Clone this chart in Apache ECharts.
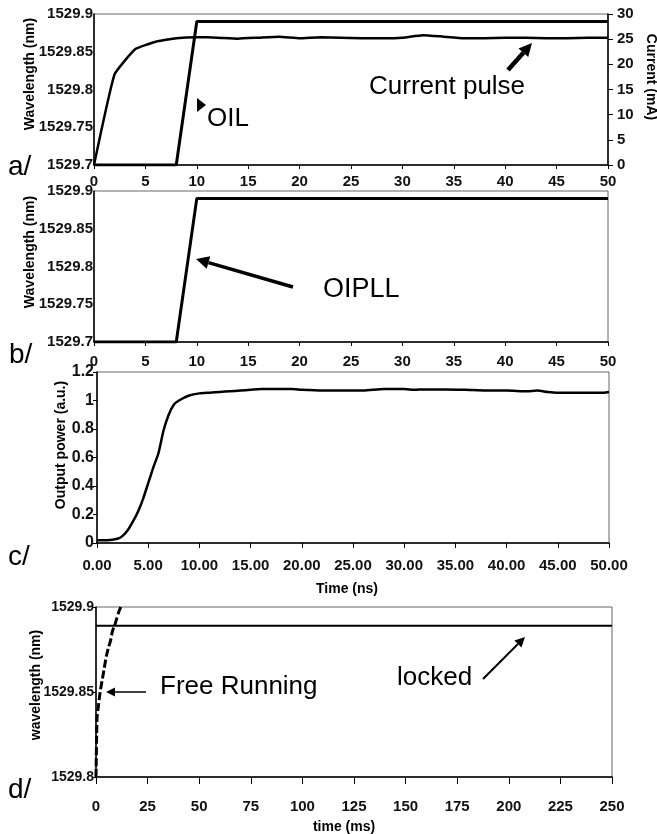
<!DOCTYPE html>
<html>
<head>
<meta charset="utf-8">
<script src="https://cdn.jsdelivr.net/npm/echarts@6/dist/echarts.min.js"></script>
<style>
  html, body { margin: 0; padding: 0; background: #fff; }
  #chart { width: 657px; height: 834px; }
</style>
</head>
<body>
<div id="chart"></div>
<script>
// a/ OIL wavelength step and current pulse
const timeStep = [0, 8, 10, 50];
const wlOIL = [1529.7, 1529.7, 1529.89, 1529.89];
const timeA = [0, 2, 4, 6, 8, 10, 12, 14, 16, 18, 20, 22, 24, 26, 28, 30, 32, 34, 36, 38, 40, 42, 44, 46, 48, 50];
const currentA = [0, 18, 23, 24.5, 25.2, 25.4, 25.3, 25.1, 25.3, 25.5, 25.2, 25.4, 25.3, 25.2, 25.2, 25.3, 25.8, 25.5, 25.2, 25.2, 25.3, 25.3, 25.2, 25.2, 25.3, 25.3];

// b/ OIPLL
const wlOIPLL = [1529.7, 1529.7, 1529.89, 1529.89];

// c/ output power
const timeC = [0, 1, 2, 2.5, 3, 3.5, 4, 4.5, 5, 5.5, 6, 6.5, 7, 7.5, 8, 9, 10, 11, 12, 13, 14, 15, 16, 17, 18, 19, 20, 22, 24, 26, 28, 29, 30, 31, 32, 34, 36, 38, 40, 42, 43, 44, 45, 46, 48, 49.5, 50];
const powerC = [0.02, 0.02, 0.03, 0.05, 0.09, 0.15, 0.22, 0.31, 0.42, 0.53, 0.63, 0.79, 0.9, 0.97, 1.0, 1.035, 1.05, 1.055, 1.06, 1.065, 1.07, 1.075, 1.08, 1.08, 1.08, 1.08, 1.075, 1.07, 1.07, 1.07, 1.08, 1.08, 1.08, 1.075, 1.078, 1.078, 1.075, 1.07, 1.07, 1.065, 1.07, 1.06, 1.055, 1.055, 1.055, 1.055, 1.06];

// d/ free running vs locked
const timeD = [0, 0.5, 1, 2, 3, 4, 5, 6, 7, 8, 9, 10, 11, 12];
const wlFree = [1529.8, 1529.835, 1529.84, 1529.85, 1529.857, 1529.864, 1529.871, 1529.876, 1529.88, 1529.886, 1529.889, 1529.893, 1529.897, 1529.9];
const timeLock = [0, 250];
const wlLock = [1529.889, 1529.889];

const zip = (xs, ys) => xs.map((x, i) => [x, ys[i]]);

const FONT = '"Liberation Sans", Arial, sans-serif';
const BLACK = '#111';

const labelStyle = (size, margin) => ({
  color: BLACK, fontFamily: FONT, fontWeight: 'bold', fontSize: size, margin: margin
});
const axisLine = { show: true, lineStyle: { color: '#000', width: 1.5 } };
const gridBox = { show: true, borderColor: '#666', borderWidth: 1, backgroundColor: 'transparent' };

// arrow = shaft + filled head
function arrow(x1, y1, x2, y2, w, head) {
  const a = Math.atan2(y2 - y1, x2 - x1);
  const bx = x2 - head * Math.cos(a), by = y2 - head * Math.sin(a);
  const hw = head * 0.5;
  const px = -Math.sin(a) * hw, py = Math.cos(a) * hw;
  return [
    { type: 'line', shape: { x1: x1, y1: y1, x2: bx, y2: by }, style: { stroke: '#000', lineWidth: w }, z: 100 },
    { type: 'polygon', shape: { points: [[x2, y2], [bx + px, by + py], [bx - px, by - py]] }, style: { fill: '#000' }, z: 100 }
  ];
}

function txt(x, y, text, size, weight, rot) {
  return {
    type: 'text', x: x, y: y, rotation: rot || 0, z: 100,
    style: {
      text: text, fill: '#000', font: (weight || 'normal') + ' ' + size + 'px ' + FONT,
      textAlign: rot ? 'center' : 'left', textVerticalAlign: 'middle'
    }
  };
}

const fmt2 = v => String(+v.toFixed(2));

const chart = echarts.init(document.getElementById('chart'));

const option = {
  animation: false,
  backgroundColor: '#fff',
  grid: [
    Object.assign({ left: 94, top: 14, width: 514, height: 151 }, gridBox),
    Object.assign({ left: 94, top: 191, width: 514, height: 151 }, gridBox),
    Object.assign({ left: 97, top: 372, width: 512, height: 171 }, gridBox),
    Object.assign({ left: 96, top: 607, width: 516, height: 170 }, gridBox)
  ],
  xAxis: [
    { type: 'value', gridIndex: 0, min: 0, max: 50, interval: 5, axisLine: axisLine,
      axisTick: { show: true, length: 4, lineStyle: { color: '#000' } },
      axisLabel: labelStyle(15, 9), splitLine: { show: false } },
    { type: 'value', gridIndex: 1, min: 0, max: 50, interval: 5, axisLine: axisLine,
      axisTick: { show: true, length: 4, lineStyle: { color: '#000' } },
      axisLabel: labelStyle(15, 12), splitLine: { show: false } },
    { type: 'value', gridIndex: 2, min: 0, max: 50, interval: 5, axisLine: axisLine,
      axisTick: { show: true, length: 5, lineStyle: { color: '#000' } },
      axisLabel: Object.assign(labelStyle(15, 15), { formatter: v => v.toFixed(2) }),
      splitLine: { show: false } },
    { type: 'value', gridIndex: 3, min: 0, max: 250, interval: 25, axisLine: axisLine,
      axisTick: { show: true, length: 7, lineStyle: { color: '#000' } },
      axisLabel: labelStyle(15, 22), splitLine: { show: false } }
  ],
  yAxis: [
    { type: 'value', gridIndex: 0, min: 1529.7, max: 1529.9, interval: 0.05, axisLine: axisLine,
      axisTick: { show: false }, axisLabel: Object.assign(labelStyle(15, 1), { formatter: fmt2 }),
      splitLine: { show: false } },
    { type: 'value', gridIndex: 0, position: 'right', min: 0, max: 30, interval: 5, axisLine: axisLine,
      axisTick: { show: true, length: 5, lineStyle: { color: '#000' } },
      axisLabel: labelStyle(15, 9), splitLine: { show: false } },
    { type: 'value', gridIndex: 1, min: 1529.7, max: 1529.9, interval: 0.05, axisLine: axisLine,
      axisTick: { show: false }, axisLabel: Object.assign(labelStyle(15, 1), { formatter: fmt2 }),
      splitLine: { show: false } },
    { type: 'value', gridIndex: 2, min: 0, max: 1.2, interval: 0.2, axisLine: axisLine,
      axisTick: { show: true, length: 4, lineStyle: { color: '#000' } },
      axisLabel: Object.assign(labelStyle(16, 3), { formatter: v => String(+v.toFixed(1)) }),
      splitLine: { show: false } },
    { type: 'value', gridIndex: 3, min: 1529.8, max: 1529.9, interval: 0.05, axisLine: axisLine,
      axisTick: { show: true, length: 4, lineStyle: { color: '#000' } },
      axisLabel: Object.assign(labelStyle(14, 2), { formatter: fmt2 }),
      splitLine: { show: false } }
  ],
  series: [
    { name: 'OIL', type: 'line', xAxisIndex: 0, yAxisIndex: 0, data: zip(timeStep, wlOIL),
      showSymbol: false, lineStyle: { color: '#000', width: 3 } },
    { name: 'Current pulse', type: 'line', xAxisIndex: 0, yAxisIndex: 1, data: zip(timeA, currentA),
      showSymbol: false, smooth: 0.12, lineStyle: { color: '#000', width: 2.5 } },
    { name: 'OIPLL', type: 'line', xAxisIndex: 1, yAxisIndex: 2, data: zip(timeStep, wlOIPLL),
      showSymbol: false, lineStyle: { color: '#000', width: 3 } },
    { name: 'Output power', type: 'line', xAxisIndex: 2, yAxisIndex: 3, data: zip(timeC, powerC),
      showSymbol: false, smooth: 0.2, lineStyle: { color: '#000', width: 2.5 } },
    { name: 'Free Running', type: 'line', xAxisIndex: 3, yAxisIndex: 4, data: zip(timeD, wlFree),
      showSymbol: false, smooth: 0.2, lineStyle: { color: '#000', width: 3, type: [8, 3] } },
    { name: 'locked', type: 'line', xAxisIndex: 3, yAxisIndex: 4, data: zip(timeLock, wlLock),
      showSymbol: false, lineStyle: { color: '#000', width: 2 } }
  ],
  graphic: [].concat(
    // axis titles
    txt(30, 74, 'Wavelength (nm)', 14, 'bold', Math.PI / 2),
    txt(651, 77, 'Current (mA)', 14, 'bold', -Math.PI / 2),
    txt(30, 252, 'Wavelength (nm)', 14, 'bold', Math.PI / 2),
    txt(61, 445, 'Output power (a.u.)', 14, 'bold', Math.PI / 2),
    txt(36, 685, 'wavelength (nm)', 14, 'bold', Math.PI / 2),
    { type: 'text', x: 347, y: 589, z: 100, style: { text: 'Time (ns)', fill: '#000', font: 'bold 14px ' + FONT, textAlign: 'center', textVerticalAlign: 'middle' } },
    { type: 'text', x: 344, y: 827, z: 100, style: { text: 'time (ms)', fill: '#000', font: 'bold 14px ' + FONT, textAlign: 'center', textVerticalAlign: 'middle' } },
    // panel tags
    txt(8, 167, 'a/', 28),
    txt(9, 355, 'b/', 28),
    txt(8, 557, 'c/', 28),
    txt(8, 790, 'd/', 28),
    // a/ annotations
    txt(369, 87, 'Current pulse', 26),
    arrow(508, 70, 532, 43, 4.5, 13),
    { type: 'polygon', z: 100, shape: { points: [[197, 98], [206, 105], [197, 112]] }, style: { fill: '#000' } },
    txt(207, 119, 'OIL', 26),
    // b/ annotations
    txt(323, 290, 'OIPLL', 27),
    arrow(293, 287, 196, 259, 3.5, 13),
    // d/ annotations
    txt(160, 687, 'Free Running', 26),
    arrow(146, 692, 106, 692, 1.5, 9),
    txt(397, 678, 'locked', 26),
    arrow(483, 679, 525, 637, 2, 10)
  )
};

chart.setOption(option);
</script>
</body>
</html>
